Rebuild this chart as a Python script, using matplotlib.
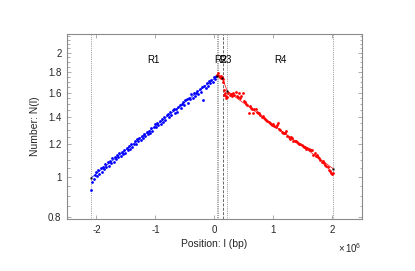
import matplotlib
matplotlib.use("Agg")
import matplotlib.pyplot as plt
from matplotlib.ticker import FixedLocator, FixedFormatter, NullFormatter

plt.rcParams['font.family'] = ['Liberation Sans', 'DejaVu Sans']
plt.rcParams['mathtext.fontset'] = 'custom'
plt.rcParams['mathtext.rm'] = 'Liberation Sans'
plt.rcParams['mathtext.it'] = 'Liberation Sans'

# positions in units of 1e6 bp
blue_x = [-2.09, -2.07, -2.05, -2.03, -2.01, -1.99, -1.97, -1.95, -1.93, -1.91,
          -1.89, -1.87, -1.85, -1.83, -1.81, -1.79, -1.77, -1.75, -1.73, -1.71,
          -1.69, -1.67, -1.65, -1.63, -1.61, -1.59, -1.57, -1.55, -1.53, -1.51,
          -1.49, -1.47, -1.45, -1.43, -1.41, -1.39, -1.37, -1.35, -1.33, -1.31,
          -1.29, -1.27, -1.25, -1.23, -1.21, -1.19, -1.17, -1.15, -1.13, -1.11,
          -1.09, -1.07, -1.05, -1.03, -1.01, -0.99, -0.97, -0.95, -0.93, -0.91,
          -0.89, -0.87, -0.85, -0.83, -0.81, -0.79, -0.77, -0.75, -0.73, -0.71,
          -0.69, -0.67, -0.65, -0.63, -0.61, -0.59, -0.57, -0.55, -0.53, -0.51,
          -0.49, -0.47, -0.45, -0.43, -0.41, -0.39, -0.37, -0.35, -0.33, -0.31,
          -0.29, -0.27, -0.25, -0.23, -0.21, -0.19, -0.17, -0.15, -0.13, -0.11,
          -0.09, -0.07, -0.05, -0.03, -0.01, 0.01, 0.03]
blue_y = [0.93, 0.97, 0.99, 1.01, 1.03, 1.005, 1.04, 1.015, 1.05, 1.03,
          1.06, 1.045, 1.075, 1.055, 1.085, 1.065, 1.095, 1.08, 1.11, 1.09,
          1.115, 1.105, 1.13, 1.12, 1.14, 1.125, 1.15, 1.135, 1.16, 1.145,
          1.175, 1.16, 1.19, 1.17, 1.20, 1.18, 1.205, 1.22, 1.20, 1.235,
          1.22, 1.245, 1.23, 1.26, 1.245, 1.27, 1.255, 1.285, 1.27, 1.295,
          1.28, 1.315, 1.295, 1.325, 1.345, 1.32, 1.355, 1.335, 1.37, 1.345,
          1.385, 1.36, 1.40, 1.375, 1.41, 1.42, 1.395, 1.435, 1.41, 1.455,
          1.46, 1.43, 1.46, 1.44, 1.48, 1.49, 1.47, 1.50, 1.515, 1.49,
          1.535, 1.545, 1.51, 1.555, 1.545, 1.585, 1.555, 1.595, 1.575, 1.60,
          1.615, 1.585, 1.635, 1.61, 1.65, 1.54, 1.665, 1.645, 1.685, 1.66,
          1.705, 1.69, 1.72, 1.70, 1.745, 1.725, 1.76]

red_x = [0.04, 0.06, 0.08, 0.09, 0.10, 0.11, 0.12, 0.13, 0.14, 0.15,
         0.16, 0.17, 0.18, 0.19, 0.20, 0.22, 0.24, 0.26, 0.28, 0.30,
         0.32, 0.34, 0.36, 0.38, 0.40, 0.42, 0.44, 0.46, 0.48, 0.50,
         0.52, 0.54, 0.56, 0.58, 0.60, 0.62, 0.64, 0.66, 0.68, 0.70,
         0.72, 0.74, 0.76, 0.78, 0.80, 0.82, 0.84, 0.86, 0.88, 0.90,
         0.92, 0.94, 0.96, 0.98, 1.00, 1.02, 1.04, 1.06, 1.08, 1.10,
         1.12, 1.14, 1.16, 1.18, 1.20, 1.22, 1.24, 1.26, 1.28, 1.30,
         1.32, 1.34, 1.36, 1.38, 1.40, 1.42, 1.44, 1.46, 1.48, 1.50,
         1.52, 1.54, 1.56, 1.58, 1.60, 1.62, 1.64, 1.66, 1.68, 1.70,
         1.72, 1.74, 1.76, 1.78, 1.80, 1.82, 1.84, 1.86, 1.88, 1.90,
         1.92, 1.94, 1.96, 1.98, 2.00, 2.02]
red_y = [1.77, 1.79, 1.76, 1.745, 1.75, 1.74, 1.76, 1.745, 1.73, 1.70,
         1.62, 1.58, 1.595, 1.55, 1.57, 1.565, 1.60, 1.58, 1.585, 1.575,
         1.60, 1.58, 1.61, 1.57, 1.56, 1.595, 1.55, 1.575, 1.60, 1.53,
         1.52, 1.50, 1.49, 1.43, 1.485, 1.47, 1.46, 1.43, 1.46, 1.465,
         1.44, 1.425, 1.43, 1.41, 1.40, 1.405, 1.39, 1.38, 1.375, 1.37,
         1.36, 1.355, 1.345, 1.34, 1.345, 1.33, 1.325, 1.34, 1.355, 1.31,
         1.30, 1.285, 1.28, 1.275, 1.28, 1.29, 1.26, 1.25, 1.235, 1.25,
         1.24, 1.225, 1.22, 1.225, 1.215, 1.21, 1.20, 1.205, 1.195, 1.19,
         1.18, 1.18, 1.17, 1.175, 1.17, 1.165, 1.16, 1.16, 1.13, 1.14,
         1.125, 1.13, 1.12, 1.11, 1.10, 1.09, 1.095, 1.08, 1.07, 1.065,
         1.055, 1.04, 1.035, 1.02, 1.015, 1.025]

# piecewise fit breakpoints
fit_blue_x = [-2.09, 0.05]
fit_blue_y = [0.995, 1.755]
fit_red_x = [0.05, 0.13, 0.22, 2.02]
fit_red_y = [1.755, 1.74, 1.615, 1.046]

# region boundaries and labels
bounds = [-2.09, 0.04, 0.07, 0.15, 0.22, 2.02]
regions = ["R1", "R2", "R3", "R4"]
region_x = [-1.025, 0.11, 0.185, 1.12]

xticks = [-2, -1, 0, 1, 2]
yticks = [0.8, 1.0, 1.2, 1.4, 1.6, 1.8, 2.0]
ytick_labels = ["0.8", "1", "1.2", "1.4", "1.6", "1.8", "2"]
yminor = [0.85, 0.9, 0.95, 1.05, 1.1, 1.15, 1.25, 1.3, 1.35, 1.45, 1.5, 1.55,
          1.65, 1.7, 1.75, 1.85, 1.9, 1.95, 2.05, 2.1, 2.15, 2.2]

edge = '#8a8a8a'
txt = '#262626'

fig = plt.figure(figsize=(4.15, 2.71), dpi=100)
ax = fig.add_axes([67 / 415, 1 - 219 / 271, 294.7 / 415, 185 / 271])

for b in bounds:
    if b == 0.15:
        ax.axvline(b, color='#666666', lw=0.7, ls=(0, (3, 1.5)), zorder=1)
    else:
        ax.axvline(b, color='#666666', lw=0.6, ls=(0, (0.8, 1.4)), zorder=1)

ax.plot(fit_blue_x, fit_blue_y, color='blue', lw=0.5, zorder=2)
ax.plot(fit_red_x, fit_red_y, color='red', lw=0.5, zorder=2)
ax.plot(blue_x, blue_y, ls='none', marker='o', ms=2.0, mec='none', mfc='blue', zorder=3)
ax.plot(red_x, red_y, ls='none', marker='o', ms=2.0, mec='none', mfc='red', zorder=3)
ax.plot(fit_blue_x[:1] + fit_red_x, fit_blue_y[:1] + fit_red_y, ls='none',
        marker='s', ms=1.8, mec='none', mfc='black', zorder=4)

for name, rx in zip(regions, region_x):
    ax.text(rx, 1.918, name, ha='center', va='center', fontsize=7, color='black')

ax.set_yscale('log')
ax.set_xlim(-2.5, 2.5)
ax.set_ylim(0.791, 2.22)
ax.yaxis.set_major_locator(FixedLocator(yticks))
ax.yaxis.set_major_formatter(FixedFormatter(ytick_labels))
ax.yaxis.set_minor_locator(FixedLocator(yminor))
ax.yaxis.set_minor_formatter(NullFormatter())
ax.set_xticks(xticks)
ax.set_xticklabels([str(t) for t in xticks])

for s in ax.spines.values():
    s.set_color(edge)
    s.set_linewidth(0.8)
ax.tick_params(which='major', direction='in', top=True, right=True, length=3,
               width=0.5, color=edge, labelcolor=txt, labelsize=7, pad=4)
ax.tick_params(which='minor', direction='in', top=True, right=True, length=1.8,
               width=0.5, color=edge)

ax.set_xlabel("Position: l (bp)", fontsize=7.5, color=txt, labelpad=3)
ax.set_ylabel("Number: N(l)", fontsize=7.5, color=txt, labelpad=6)
ax.text(1.0, -0.155, r"$\times\,10^{6}$", transform=ax.transAxes, ha='right',
        va='center', fontsize=7, color=txt)

fig.savefig("out.png", dpi=100)
